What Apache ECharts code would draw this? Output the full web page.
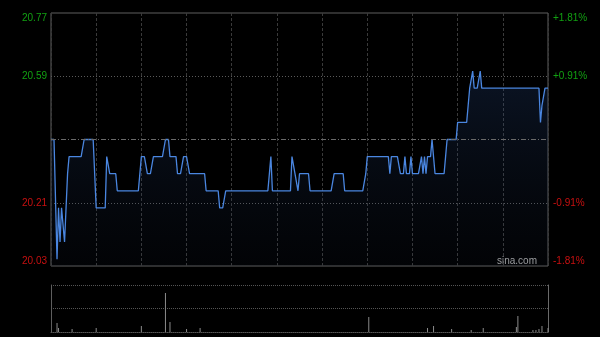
<!DOCTYPE html>
<html>
<head>
<meta charset="utf-8">
<script src="https://cdn.jsdelivr.net/npm/echarts@6/dist/echarts.min.js"></script>
<style>
html,body{margin:0;padding:0;background:#000;}
#c{width:600px;height:337px;}
</style>
</head>
<body>
<div id="c"></div>
<script>
// Minute index 0..330 (HK session 09:30-12:00, 13:00-16:00), one row per 30 minutes
var prices = [
  20.40,20.40,20.40,20.40,20.05,20.20,20.10,20.20,20.20,20.10,20.20,20.30,20.35,20.35,20.35,20.35,20.35,20.35,20.35,20.35,20.35,20.35,20.40,20.40,20.40,20.40,20.40,20.40,20.40,20.40,
  20.20,20.20,20.20,20.20,20.20,20.20,20.20,20.35,20.35,20.30,20.30,20.30,20.30,20.30,20.25,20.25,20.25,20.25,20.25,20.25,20.25,20.25,20.25,20.25,20.25,20.25,20.25,20.25,20.25,20.25,
  20.35,20.35,20.35,20.35,20.30,20.30,20.30,20.30,20.35,20.35,20.35,20.35,20.35,20.35,20.35,20.35,20.40,20.40,20.40,20.35,20.35,20.35,20.35,20.35,20.30,20.30,20.30,20.30,20.35,20.35,
  20.35,20.35,20.30,20.30,20.30,20.30,20.30,20.30,20.30,20.30,20.30,20.30,20.30,20.25,20.25,20.25,20.25,20.25,20.25,20.25,20.25,20.25,20.20,20.20,20.20,20.20,20.25,20.25,20.25,20.25,
  20.25,20.25,20.25,20.25,20.25,20.25,20.25,20.25,20.25,20.25,20.25,20.25,20.25,20.25,20.25,20.25,20.25,20.25,20.25,20.25,20.25,20.25,20.25,20.25,20.25,20.25,20.35,20.25,20.25,20.25,
  20.25,20.25,20.25,20.25,20.25,20.25,20.25,20.25,20.25,20.25,20.35,20.35,20.30,20.30,20.25,20.30,20.30,20.30,20.30,20.30,20.30,20.30,20.25,20.25,20.25,20.25,20.25,20.25,20.25,20.25,
  20.25,20.25,20.25,20.25,20.25,20.25,20.25,20.25,20.30,20.30,20.30,20.30,20.30,20.30,20.30,20.25,20.25,20.25,20.25,20.25,20.25,20.25,20.25,20.25,20.25,20.25,20.25,20.25,20.25,20.30,
  20.35,20.35,20.35,20.35,20.35,20.35,20.35,20.35,20.35,20.35,20.35,20.35,20.35,20.35,20.35,20.30,20.35,20.35,20.35,20.35,20.35,20.35,20.30,20.30,20.30,20.35,20.30,20.30,20.30,20.35,
  20.30,20.30,20.30,20.30,20.30,20.30,20.35,20.30,20.35,20.30,20.35,20.35,20.35,20.40,20.40,20.30,20.30,20.30,20.30,20.30,20.30,20.30,20.35,20.40,20.40,20.40,20.40,20.40,20.40,20.40,
  20.45,20.45,20.45,20.45,20.45,20.45,20.45,20.50,20.55,20.55,20.60,20.55,20.55,20.55,20.55,20.60,20.55,20.55,20.55,20.55,20.55,20.55,20.55,20.55,20.55,20.55,20.55,20.55,20.55,20.55,
  20.55,20.55,20.55,20.55,20.55,20.55,20.55,20.55,20.55,20.55,20.55,20.55,20.55,20.55,20.55,20.55,20.55,20.55,20.55,20.55,20.55,20.55,20.55,20.55,20.55,20.45,20.50,20.50,20.55,20.55,20.55
];
// Volume bars: [minute index, relative volume]
var volumes = [
  [4,9],[5,4],[14,3],[30,4],[60,6],[76,39],[79,10],[90,3],[99,4],
  [211,15],[250,4],[254,6],[266,3],[279,2],[287,4],[309,5],[310,16],
  [320,2],[322,2],[324,3],[326,6],[330,4]
];
var prevClose = 20.40;
var priceMin = 20.03, priceMax = 20.77, priceStep = 0.185;
var leftTickLabels = {'20.03':'20.03','20.215':'20.21','20.585':'20.59','20.77':'20.77'};
var rightTickLabels = {'20.03':'-1.81%','20.215':'-0.91%','20.585':'+0.91%','20.77':'+1.81%'};
var volMax = 47;

var GREEN = '#12a012', RED = '#c81010';
function keyOf(v){ return String(Math.round(v*1000)/1000); }
function labColor(v){ return v > prevClose ? GREEN : RED; }

var chart = echarts.init(document.getElementById('c'), null, {renderer:'canvas'});
var priceData = prices.map(function(p,i){ return [i,p]; });

chart.setOption({
  backgroundColor: '#000',
  animation: false,
  grid: [
    {left:51, right:52, top:13, height:253, show:true, borderColor:'#5e5e5e', borderWidth:1, backgroundColor:'transparent'},
    {left:51, right:52, top:285, height:47, show:false}
  ],
  xAxis: [
    {type:'value', gridIndex:0, min:0, max:330, interval:30,
     axisLine:{show:false}, axisTick:{show:false}, axisLabel:{show:false},
     splitLine:{show:true, lineStyle:{color:'#3a3a3a', type:[3,2], width:1}}},
    {type:'value', gridIndex:1, min:0, max:330, interval:30,
     axisLine:{show:true, onZero:false, lineStyle:{color:'#555', type:[1,1]}}, axisTick:{show:false}, axisLabel:{show:false},
     splitLine:{show:false}}
  ],
  yAxis: [
    {type:'value', gridIndex:0, min:priceMin, max:priceMax, interval:priceStep, position:'left',
     axisLine:{show:false}, axisTick:{show:false},
     axisLabel:{show:true, margin:4, fontSize:10, fontFamily:'Liberation Sans, Arial, sans-serif',
       verticalAlignMaxLabel:'top', verticalAlignMinLabel:'bottom',
       formatter:function(v){ var k=keyOf(v); return leftTickLabels[k]||''; },
       color:function(v){ return labColor(+v); }},
     splitLine:{show:true, lineStyle:{color:['transparent','#5a5a5a','transparent','#5a5a5a','transparent'], type:[1,2], width:1}}},
    {type:'value', gridIndex:0, min:priceMin, max:priceMax, interval:priceStep, position:'right',
     axisLine:{show:false}, axisTick:{show:false},
     axisLabel:{show:true, margin:5, fontSize:10, fontFamily:'Liberation Sans, Arial, sans-serif',
       verticalAlignMaxLabel:'top', verticalAlignMinLabel:'bottom',
       formatter:function(v){ var k=keyOf(v); return rightTickLabels[k]||''; },
       color:function(v){ return labColor(+v); }},
     splitLine:{show:false}},
    {type:'value', gridIndex:1, min:0, max:volMax, interval:volMax/2, position:'left',
     axisLine:{show:true, lineStyle:{color:'#5e5e5e'}}, axisTick:{show:false}, axisLabel:{show:false},
     splitLine:{show:true, lineStyle:{color:'#555', type:[1,1]}}},
    {type:'value', gridIndex:1, min:0, max:volMax, interval:volMax/2, position:'right',
     axisLine:{show:true, lineStyle:{color:'#6a6a6a'}}, axisTick:{show:false}, axisLabel:{show:false},
     splitLine:{show:false}}
  ],
  series: [
    {type:'line', xAxisIndex:0, yAxisIndex:0, data:priceData, symbol:'none', smooth:false,
     lineStyle:{color:'#4a86e0', width:1.3},
     areaStyle:{origin:'start', color:new echarts.graphic.LinearGradient(0,0,0,1,[
       {offset:0, color:'rgba(40,75,135,0.38)'},
       {offset:1, color:'rgba(25,40,70,0.12)'}])},
     markLine:{silent:true, symbol:'none', label:{show:false},
       lineStyle:{color:'#6a6a6a', type:[5,2,1,2], width:1},
       data:[{yAxis:prevClose}]},
     z:3},
    {type:'bar', xAxisIndex:1, yAxisIndex:2, data:volumes, barWidth:1,
     itemStyle:{color:'#8a8a8a'}}
  ],
  graphic: [
    {type:'text', right:63, top:256, style:{text:'sina.com', fill:'#a8a8a8', font:'10px "Liberation Sans", Arial, sans-serif'}}
  ]
});
</script>
</body>
</html>
